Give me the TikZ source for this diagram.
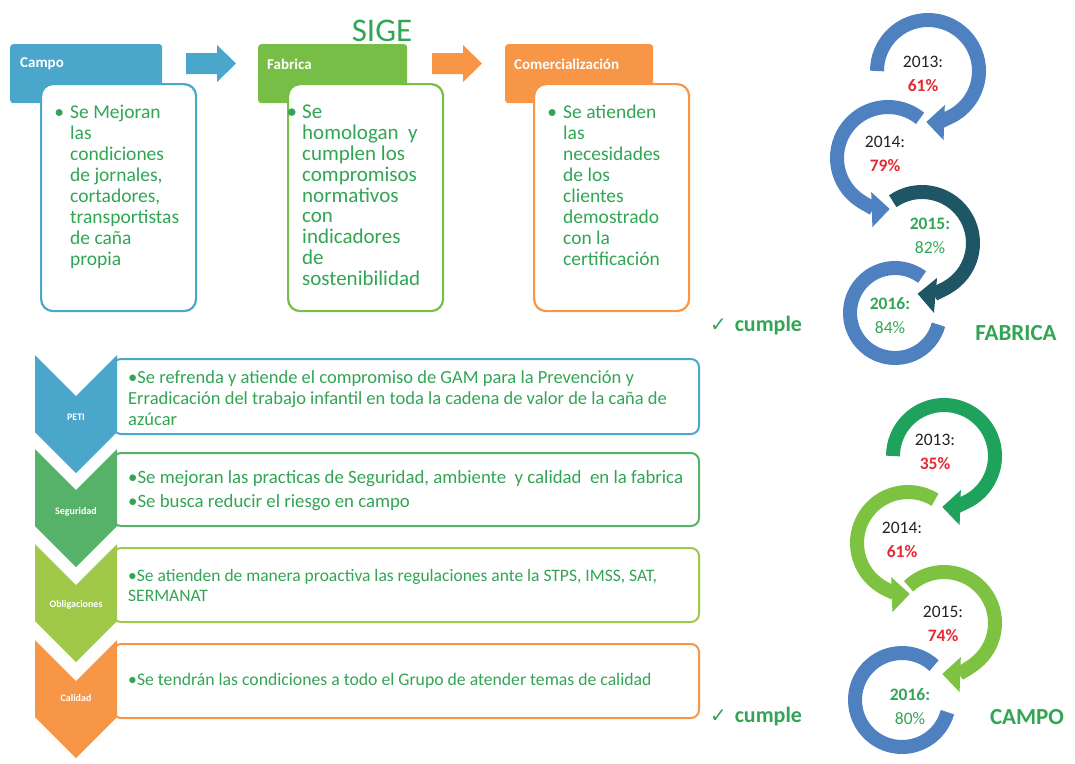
\documentclass[tikz,border=0pt]{standalone}
\usepackage{fontspec}
\setmainfont{Carlito}
\newfontfamily\symfont{DejaVu Sans}
\usetikzlibrary{calc,arrows.meta}

\definecolor{campoblue}{RGB}{75,166,203}
\definecolor{fabgreen}{RGB}{119,190,70}
\definecolor{comorange}{RGB}{247,150,70}
\definecolor{segreen}{RGB}{86,178,104}
\definecolor{obligreen}{RGB}{160,200,72}
\definecolor{ringblue}{RGB}{79,129,192}
\definecolor{ringteal}{RGB}{30,86,102}
\definecolor{ringdark}{RGB}{30,162,92}
\definecolor{ringlight}{RGB}{126,194,66}
\definecolor{txtgreen}{RGB}{50,165,85}
\definecolor{pctred}{RGB}{228,40,52}
\definecolor{yearblack}{RGB}{35,35,35}

\begin{document}
\begin{tikzpicture}[x=1pt,y=-1pt,
    hdr/.style={rectangle, rounded corners=3pt, anchor=north west, minimum height=59pt, inner sep=0pt},
    hdrtxt/.style={anchor=west, text=white, inner sep=0pt, font=\fontsize{15}{18}\selectfont\bfseries},
    body/.style={rectangle, draw, line width=2.2pt, fill=white, rounded corners=12pt, anchor=north west,
      minimum width=155pt, minimum height=227pt},
    bodytxt/.style={anchor=north west, align=left, inner sep=0pt, text=txtgreen, font=\fontsize{19.5}{21}\selectfont},
    rowbox/.style={rectangle, draw, line width=2pt, fill=white, rounded corners=8pt, anchor=north west,
      minimum width=586pt},
    rowtxt/.style={anchor=west, align=left, inner sep=0pt, text=txtgreen, font=\fontsize{18.5}{21}\selectfont},
    chevtxt/.style={text=white, inner sep=0pt, font=\fontsize{10}{12}\selectfont\bfseries},
    ring/.style={line width=14pt},
    headtip/.style={-{Triangle[width=34pt,length=18pt]}},
    year/.style={align=center, inner sep=0pt, text=yearblack, font=\fontsize{17.5}{24}\selectfont},
    cumple/.style={text=txtgreen, inner sep=0pt, font=\fontsize{22}{24}\selectfont\bfseries},
    sigetitle/.style={text=txtgreen, inner sep=0pt, font=\fontsize{33}{36}\selectfont}]

  \useasboundingbox (0,0) rectangle (1075,763);

  \node[sigetitle] (sige) at (382,31) {SIGE};

  % top row: headers, bodies, block arrows
  \node[hdr, fill=campoblue, minimum width=152pt] (campoH) at (10,44) {};
  \node[hdr, fill=fabgreen, minimum width=149pt] (fabH) at (258,44) {};
  \node[hdr, fill=comorange, minimum width=148pt] (comH) at (505,44) {};
  \node[hdrtxt] (campoL) at ($(campoH.north west)+(10,20)$) {Campo};
  \node[hdrtxt] (fabL) at ($(fabH.north west)+(9,20)$) {Fabrica};
  \node[hdrtxt] (comL) at ($(comH.north west)+(9,20)$) {Comercialización};

  \fill[campoblue] (186,53) -- (217,53) -- (217,45) -- (236,63.5) -- (217,82) -- (217,74) -- (186,74) -- cycle;
  \fill[comorange] (432,53) -- (463,53) -- (463,45) -- (482,63.5) -- (463,82) -- (463,74) -- (432,74) -- cycle;

  \node[body, draw=campoblue] (campoB) at (40,83) {};
  \node[body, draw=fabgreen] (fabB) at (287,83) {};
  \node[body, draw=comorange] (comB) at (533,83) {};

  \node[bodytxt] (campoT) at ($(campoB.north west)+(30,22)$)
    {\llap{\textbullet\hspace{6pt}}Se Mejoran\\las\\condiciones\\de jornales,\\cortadores,\\transportistas\\de caña\\propia};
  \node[bodytxt, font=\fontsize{21}{20.8}\selectfont] (fabT) at ($(fabB.north west)+(15,22)$)
    {\llap{\textbullet\hspace{5pt}}Se\\homologan\ \ y\\cumplen los\\compromisos\\normativos\\con\\indicadores\\de\\sostenibilidad};
  \node[bodytxt] (comT) at ($(comB.north west)+(30,22)$)
    {\llap{\textbullet\hspace{6pt}}Se atienden\\las\\necesidades\\de los\\clientes\\demostrado\\con la\\certificación};

  % bottom list
  \node[rowbox, draw=campoblue, minimum height=75pt] (petiB) at (112,358) {};
  \node[rowbox, draw=segreen, minimum height=73pt] (segB) at (112,452) {};
  \node[rowbox, draw=obligreen, minimum height=74pt] (obliB) at (112,547) {};
  \node[rowbox, draw=comorange, minimum height=74pt] (calB) at (112,643) {};

  \node[rowtxt] (petiT) at ($(petiB.west)+(16,2)$)
    {•Se refrenda y atiende el compromiso de GAM para la Prevención y\\Erradicación del trabajo infantil en toda la cadena de valor de la caña de\\azúcar};
  \node[rowtxt, font=\fontsize{18.8}{21}\selectfont] (segT) at ($(segB.west)+(16,1)$)
    {•Se mejoran las practicas de Seguridad, ambiente\ \ y calidad\ \ en la fabrica\\[3pt]•Se busca reducir el riesgo en campo};
  \node[rowtxt, font=\fontsize{17.5}{20}\selectfont] (obliT) at ($(obliB.west)+(16,0)$)
    {•Se atienden de manera proactiva las regulaciones ante la STPS, IMSS, SAT,\\SERMANAT};
  \node[rowtxt, font=\fontsize{17.7}{21}\selectfont] (calT) at ($(calB.west)+(16,0)$)
    {•Se tendrán las condiciones a todo el Grupo de atender temas de calidad};

  \foreach \T/\col in {355/campoblue, 449/segreen, 544/obligreen, 640/comorange}
    \fill[\col, shift={(0,\T)}] (35,0) -- (76,41) -- (117,0) -- (117,77) -- (76,118) -- (35,77) -- cycle;

  \node[chevtxt] (peti) at (76,417) {PETI};
  \node[chevtxt] (seg) at (76,512) {Seguridad};
  \node[chevtxt] (obli) at (76,605) {Obligaciones};
  \node[chevtxt] (cal) at (76,698) {Calidad};

  \node[cumple] (cumF) at (756,326) {{\symfont\fontsize{20}{20}\selectfont ✓}\hspace{8pt}cumple};
  \node[cumple] (cumC) at (756,716) {{\symfont\fontsize{20}{20}\selectfont ✓}\hspace{8pt}cumple};

  % FABRICA rings
  \draw[ring, ringblue, headtip] (928,71) ++(-180:51) arc[start angle=-180, end angle=92, radius=51];
  \draw[ring, ringblue, headtip] (888,158) ++(-51:51) arc[start angle=-51, end angle=-272, radius=51];
  \draw[ring, ringteal, headtip] (922,243) ++(-125:51) arc[start angle=-125, end angle=95, radius=51];
  \draw[ring, ringblue] (895,313) ++(-53:45) arc[start angle=-53, end angle=-345, radius=45];

  \node[year] (f13) at (923,74) {2013:\\\textcolor{pctred}{\bfseries 61\%}};
  \node[year] (f14) at (885,154) {2014:\\\textcolor{pctred}{\bfseries 79\%}};
  \node[year, text=txtgreen] (f15) at (930,236) {\bfseries 2015:\\82\%};
  \node[year, text=txtgreen] (f16) at (890,316) {\bfseries 2016:\\84\%};
  \node[cumple, font=\fontsize{23}{26}\selectfont\bfseries] (fab) at (1016,333) {FABRICA};

  % CAMPO rings
  \draw[ring, ringdark, headtip] (944,456) ++(-180:51) arc[start angle=-180, end angle=92, radius=51];
  \draw[ring, ringlight, headtip] (908,543) ++(-58:51) arc[start angle=-58, end angle=-272, radius=51];
  \draw[ring, ringlight, headtip] (944,623) ++(-134:51) arc[start angle=-134, end angle=92, radius=51];
  \draw[ring, ringblue] (902,700) ++(-47:47) arc[start angle=-47, end angle=-345, radius=47];

  \node[year] (c13) at (935,452) {2013:\\\textcolor{pctred}{\bfseries 35\%}};
  \node[year] (c14) at (902,540) {2014:\\\textcolor{pctred}{\bfseries 61\%}};
  \node[year] (c15) at (943,624) {2015:\\\textcolor{pctred}{\bfseries 74\%}};
  \node[year, text=txtgreen] (c16) at (910,707) {\bfseries 2016:\\80\%};
  \node[cumple, font=\fontsize{23}{26}\selectfont\bfseries] (campo) at (1027,717) {CAMPO};
\end{tikzpicture}
\end{document}
